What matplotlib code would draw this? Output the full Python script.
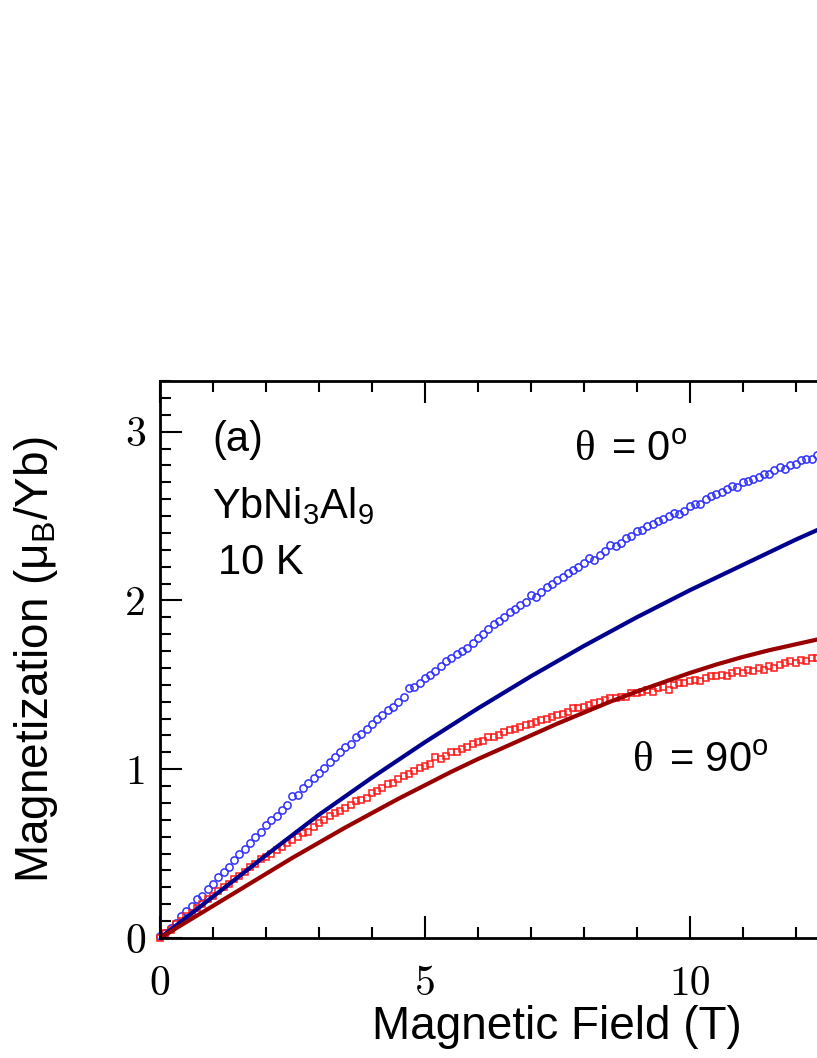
import matplotlib.pyplot as plt
from matplotlib.ticker import MultipleLocator
import numpy as np

plt.rcParams['mathtext.fontset'] = 'custom'
plt.rcParams['mathtext.rm'] = 'Liberation Sans'
plt.rcParams['mathtext.it'] = 'Liberation Sans:italic'
plt.rcParams['font.family'] = ['Liberation Sans', 'DejaVu Sans']

# measured field steps (T)
field_data = np.round(np.arange(0, 12.45, 0.1), 2)

# theta = 0 deg, measured (blue circles)
m_th0_data = [0.01, 0.03, 0.06, 0.09, 0.13, 0.16, 0.19, 0.23, 0.25, 0.29,
              0.32, 0.36, 0.39, 0.42, 0.46, 0.50, 0.53, 0.56, 0.60, 0.63,
              0.67, 0.70, 0.72, 0.76, 0.79, 0.84, 0.85, 0.89, 0.92, 0.95,
              0.98, 1.01, 1.04, 1.07, 1.10, 1.13, 1.15, 1.19, 1.21, 1.24,
              1.27, 1.30, 1.32, 1.35, 1.37, 1.40, 1.43, 1.48, 1.49, 1.51,
              1.54, 1.56, 1.58, 1.61, 1.64, 1.66, 1.68, 1.70, 1.72, 1.75,
              1.78, 1.80, 1.83, 1.86, 1.88, 1.90, 1.93, 1.95, 1.97, 1.99,
              2.03, 2.02, 2.05, 2.08, 2.10, 2.12, 2.14, 2.16, 2.18, 2.20,
              2.22, 2.25, 2.24, 2.27, 2.29, 2.33, 2.32, 2.34, 2.37, 2.38,
              2.41, 2.42, 2.44, 2.45, 2.47, 2.48, 2.50, 2.52, 2.51, 2.53,
              2.56, 2.57, 2.57, 2.60, 2.62, 2.63, 2.64, 2.66, 2.68, 2.67,
              2.70, 2.71, 2.72, 2.73, 2.75, 2.75, 2.77, 2.79, 2.78, 2.80,
              2.81, 2.83, 2.84, 2.84, 2.86]

# theta = 90 deg, measured (red squares)
m_th90_data = [0.00, 0.03, 0.05, 0.08, 0.10, 0.13, 0.15, 0.18, 0.20, 0.23,
               0.25, 0.28, 0.30, 0.32, 0.35, 0.37, 0.39, 0.42, 0.44, 0.47,
               0.48, 0.50, 0.52, 0.54, 0.56, 0.58, 0.60, 0.62, 0.63, 0.66,
               0.68, 0.70, 0.72, 0.74, 0.75, 0.77, 0.79, 0.81, 0.82, 0.83,
               0.86, 0.87, 0.89, 0.91, 0.92, 0.94, 0.96, 0.97, 0.99, 1.01,
               1.02, 1.03, 1.07, 1.06, 1.08, 1.10, 1.10, 1.12, 1.13, 1.15,
               1.16, 1.17, 1.19, 1.19, 1.20, 1.22, 1.23, 1.24, 1.25, 1.26,
               1.27, 1.28, 1.29, 1.30, 1.31, 1.32, 1.33, 1.34, 1.36, 1.36,
               1.37, 1.38, 1.39, 1.40, 1.41, 1.42, 1.42, 1.43, 1.43, 1.45,
               1.45, 1.46, 1.47, 1.46, 1.48, 1.49, 1.47, 1.50, 1.51, 1.51,
               1.52, 1.53, 1.52, 1.54, 1.55, 1.55, 1.56, 1.55, 1.57, 1.58,
               1.57, 1.59, 1.58, 1.60, 1.59, 1.61, 1.60, 1.62, 1.63, 1.64,
               1.63, 1.65, 1.64, 1.66, 1.66]

# calculated curves
field_calc = [0, 0.5, 1, 1.5, 2, 2.5, 3, 3.5, 4, 4.5, 5, 5.5, 6, 6.5, 7, 7.5,
              8, 8.5, 9, 9.5, 10, 10.5, 11, 11.5, 12, 12.5]
m_th0_calc = [0, 0.122, 0.245, 0.367, 0.49, 0.61, 0.73, 0.84, 0.95, 1.055,
              1.16, 1.26, 1.36, 1.455, 1.55, 1.64, 1.73, 1.815, 1.90, 1.98,
              2.06, 2.135, 2.21, 2.285, 2.36, 2.43]
m_th90_calc = [0, 0.095, 0.19, 0.285, 0.38, 0.475, 0.565, 0.655, 0.74, 0.825,
               0.905, 0.985, 1.06, 1.13, 1.20, 1.27, 1.335, 1.40, 1.46, 1.515,
               1.57, 1.62, 1.665, 1.705, 1.74, 1.775]

fig = plt.figure(figsize=(8.17, 10.58), dpi=100)
# axes run past the right edge of the picture (the original is cropped)
ax = fig.add_axes([160/817, 120/1058, 784/817, 557/1058])

ax.plot(field_data, m_th0_data, 'o', mfc='none', mec='#3030ff', ms=5.2, mew=1.1, clip_on=False)
ax.plot(field_data, m_th90_data, 's', mfc='none', mec='#ff1a1a', ms=4.6, mew=1.1, clip_on=False)
ax.plot(field_calc, m_th0_calc, color='#00008f', lw=3)
ax.plot(field_calc, m_th90_calc, color='#990000', lw=3)

ax.set_xlim(0, 14.8)
ax.set_ylim(0, 3.3)
ax.xaxis.set_major_locator(MultipleLocator(5))
ax.xaxis.set_minor_locator(MultipleLocator(1))
ax.yaxis.set_major_locator(MultipleLocator(1))
ax.yaxis.set_minor_locator(MultipleLocator(0.1))
ax.tick_params(which='both', direction='in', top=True, right=True, width=1.5)
ax.tick_params(which='major', length=16)
ax.tick_params(which='minor', length=8)
ax.tick_params(axis='x', pad=20)
ax.tick_params(axis='y', pad=10)
for lab in ax.get_xticklabels() + ax.get_yticklabels():
    lab.set_family('cmr10')
    lab.set_fontsize(30)
for sp in ax.spines.values():
    sp.set_linewidth(2)

ax.set_xlabel('Magnetic Field (T)', fontsize=33)
ax.set_ylabel('Magnetization (μ$_\\mathrm{B}$/Yb)', fontsize=33)
ax.xaxis.set_label_coords(0.506, -0.12)
ax.yaxis.set_label_coords(-0.127, 0.5)

ax.text(0.98, 2.95, '(a)', fontsize=30, va='center')
ax.text(0.98, 2.56, 'YbNi$_3$Al$_9$', fontsize=30, va='center')
ax.text(1.09, 2.22, '10 K', fontsize=30, va='center')

ax.text(7.83, 2.89, 'θ', fontsize=31, va='center', family='Liberation Serif')
ax.annotate('= 0$^\\mathrm{o}$', (7.83, 2.89), xytext=(26, 0), textcoords='offset points',
            fontsize=30, va='center')
ax.text(8.92, 1.05, 'θ', fontsize=31, va='center', family='Liberation Serif')
ax.annotate('= 90$^\\mathrm{o}$', (8.92, 1.05), xytext=(26, 0), textcoords='offset points',
            fontsize=30, va='center')

plt.savefig('out.png')
